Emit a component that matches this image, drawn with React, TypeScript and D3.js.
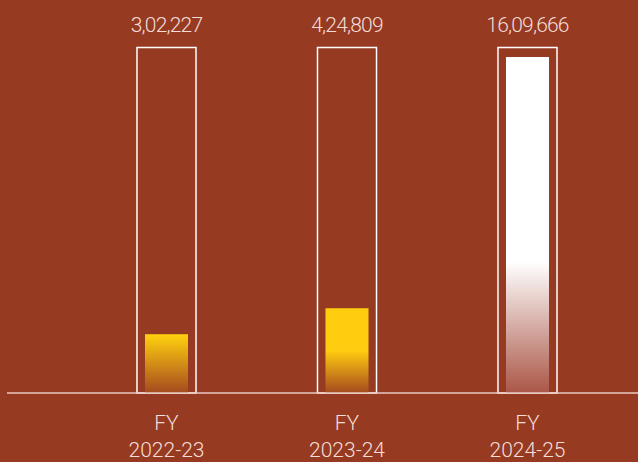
import React from 'react';
import * as d3 from 'd3';

const categories = ['FY 2022-23', 'FY 2023-24', 'FY 2024-25'];
const values = [302227, 424809, 1609666];
const valueLabels = ['3,02,227', '4,24,809', '16,09,666'];
// gradient colours per bar: [top, solid-until offset, bottom]
const barTop = ['#FFD20E', '#FFCD10', '#FFFFFF'];
const barFadeFrom = [0, 0.5, 0.61];
const barBottom = ['#A6491F', '#A6491F', '#AA5646'];
const yMin = 25000;

const W = 638;
const H = 462;
const bg = '#963A22';
const textColor = '#F3DDD6';
const font = 'Roboto, "Noto Sans", sans-serif';

export default function App() {
  const baseY = 393;
  const x = d3.scaleBand<string>()
    .domain(categories)
    .range([76.25, 617.75])
    .paddingInner(0.673)
    .paddingOuter(0.3365);
  const y = d3.scaleLinear()
    .domain([yMin, d3.max(values) as number])
    .range([baseY, 57]);
  const inset = 8;
  const outlineTop = 47.5;

  return (
    <svg width={W} height={H} style={{ position: 'absolute', left: 0, top: 0, display: 'block' }}>
      <defs>
        {categories.map((c, i) => (
          <linearGradient key={c} id={`g${i}`} x1="0" y1="0" x2="0" y2="1">
            <stop offset="0" stopColor={barTop[i]} />
            <stop offset={barFadeFrom[i]} stopColor={barTop[i]} />
            <stop offset="1" stopColor={barBottom[i]} />
          </linearGradient>
        ))}
      </defs>
      <rect x={0} y={0} width={W} height={H} fill={bg} />
      {categories.map((c, i) => {
        const bx = x(c) as number;
        const bw = x.bandwidth();
        const [l1, l2] = c.split(' ');
        return (
          <g key={c}>
            <rect x={bx} y={outlineTop} width={bw} height={baseY - outlineTop}
              fill="none" stroke="#FFFFFF" strokeWidth={1.5} />
            <rect x={bx + inset} y={y(values[i])} width={bw - 2 * inset}
              height={baseY - y(values[i])} fill={`url(#g${i})`} />
            <text x={bx + bw / 2} y={31.5} textAnchor="middle" fill={textColor}
              fontFamily={font} fontWeight={300} fontSize={21} letterSpacing={-0.8}>
              {valueLabels[i]}
            </text>
            <text x={bx + bw / 2} y={430} textAnchor="middle" fill={textColor}
              fontFamily={font} fontWeight={300} fontSize={21}>{l1}</text>
            <text x={bx + bw / 2} y={457} textAnchor="middle" fill={textColor}
              fontFamily={font} fontWeight={300} fontSize={21}>{l2}</text>
          </g>
        );
      })}
      <line x1={7} x2={W} y1={baseY} y2={baseY} stroke="#E9C9C0" strokeWidth={1.5} />
    </svg>
  );
}
